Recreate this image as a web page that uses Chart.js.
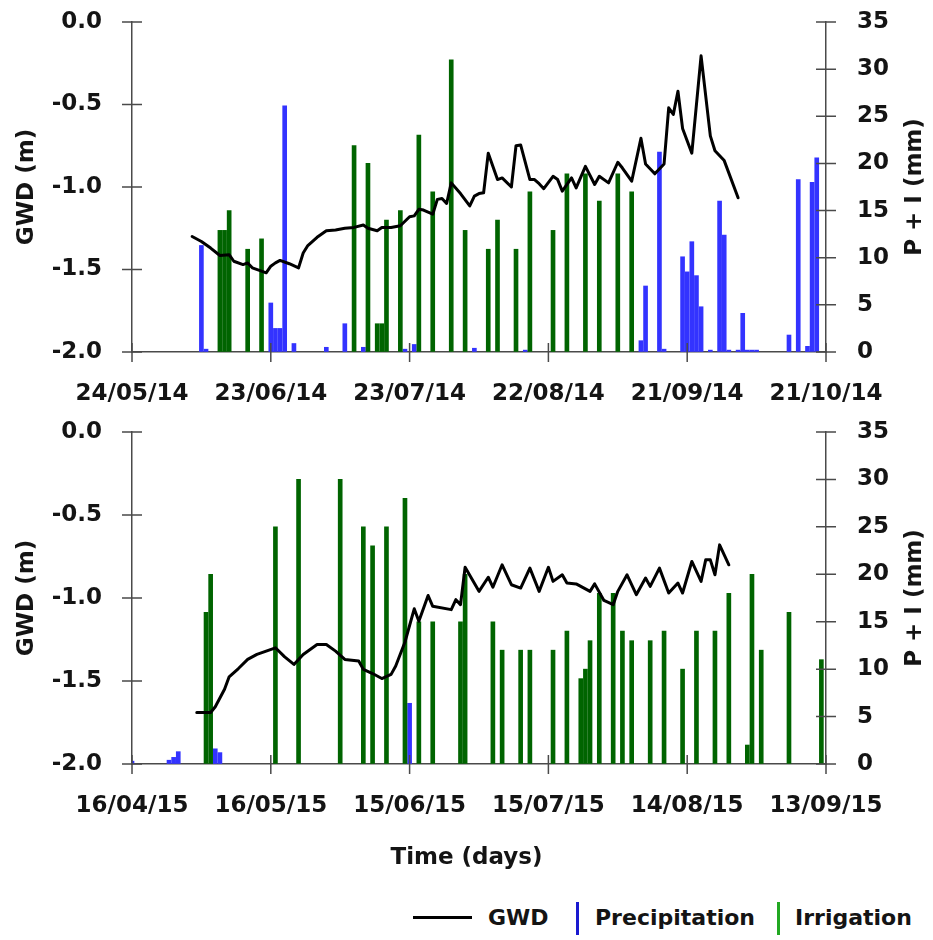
<!DOCTYPE html>
<html>
<head>
<meta charset="utf-8">
<script src="https://cdn.jsdelivr.net/npm/chart.js@4.4.1/dist/chart.umd.min.js"></script>
<style>
html,body{margin:0;padding:0;background:#fff;}
#wrap{position:relative;width:933px;height:940px;overflow:hidden;background:#fff;}
#c1{position:absolute;left:0;top:0;}
#c2{position:absolute;left:0;top:410px;}
.lgt{position:absolute;font-family:"DejaVu Sans",sans-serif;font-weight:bold;font-size:22px;line-height:22px;color:#141414;white-space:nowrap;}
.lgs{position:absolute;}
</style>
</head>
<body>
<div id="wrap">
  <canvas id="c1" width="933" height="410"></canvas>
  <canvas id="c2" width="933" height="480"></canvas>
  <div class="lgs" style="left:413px;top:916px;width:59px;height:3px;background:#000;"></div>
  <div class="lgt" style="left:488px;top:907px;">GWD</div>
  <div class="lgs" style="left:576px;top:902px;width:3px;height:33px;background:#1a1ad0;"></div>
  <div class="lgt" style="left:595px;top:907px;">Precipitation</div>
  <div class="lgs" style="left:777px;top:902px;width:3px;height:33px;background:#22a822;"></div>
  <div class="lgt" style="left:795px;top:907px;">Irrigation</div>
</div>
<script>
// ---------- data (day 0 = first tick date of each panel) ----------
const tickLabels2014 = ["24/05/14","23/06/14","23/07/14","22/08/14","21/09/14","21/10/14"];
const tickLabels2015 = ["16/04/15","16/05/15","15/06/15","15/07/15","14/08/15","13/09/15"];

const gwdDays2014 = [13,15,17,19,21,22,24,25,26,28,29,30,31,32,34,36,37,38,40,42,44,46,48,50,51,53,54,56,58,60,61,62,63,65,66,67,68,69,71,73,74,75,76,77,79,80,82,83,84,86,87,88,89,91,92,93,95,96,98,100,101,103,105,106,108,110,111,113,115,116,117,118,119,121,123,125,126,128,131];
const gwdValues2014 = [-1.30,-1.33,-1.37,-1.415,-1.41,-1.45,-1.47,-1.46,-1.49,-1.51,-1.52,-1.48,-1.46,-1.445,-1.465,-1.49,-1.40,-1.355,-1.305,-1.265,-1.26,-1.25,-1.245,-1.23,-1.25,-1.265,-1.245,-1.245,-1.235,-1.18,-1.175,-1.135,-1.14,-1.165,-1.075,-1.07,-1.10,-0.975,-1.04,-1.115,-1.055,-1.04,-1.035,-0.795,-0.955,-0.945,-1.00,-0.75,-0.745,-0.955,-0.955,-0.98,-1.01,-0.935,-0.955,-1.025,-0.945,-1.005,-0.875,-0.985,-0.935,-0.975,-0.85,-0.885,-0.965,-0.705,-0.86,-0.92,-0.86,-0.52,-0.56,-0.42,-0.645,-0.795,-0.205,-0.69,-0.78,-0.84,-1.065];

const precipDays2014 = [15,16,30,31,32,33,35,42,46,50,59,61,74,85,110,111,114,115,119,120,121,122,123,125,127,128,129,131,132,133,134,135,142,144,146,147,148];
const precipValues2014 = [11.3,0.3,5.2,2.5,2.5,26.1,0.9,0.5,3.0,0.5,0.3,0.8,0.4,0.2,1.2,7.0,21.2,0.3,10.1,8.5,11.7,8.1,4.8,0.2,16.0,12.4,0.2,0.2,4.1,0.2,0.2,0.2,1.8,18.3,0.6,18.0,20.6];

const irrigDays2014 = [19,20,21,25,28,48,51,53,54,55,58,62,65,69,72,77,79,83,86,91,94,98,101,105,108];
const irrigValues2014 = [12.9,12.9,15.0,10.9,12.0,21.9,20.0,3.0,3.0,14.0,15.0,23.0,17.0,31.0,12.9,10.9,14.0,10.9,17.0,12.9,18.9,18.9,16.0,18.9,17.0];

const gwdDays2015 = [14,17,18,20,21,23,25,27,29,31,33,35,37,40,42,44,46,49,50,52,54,56,57,59,61,62,64,65,69,70,71,72,75,77,78,80,82,84,86,88,90,91,93,94,96,99,100,102,104,105,107,109,111,112,114,116,118,119,121,123,124,125,126,127,129];
const gwdValues2015 = [-1.69,-1.69,-1.655,-1.55,-1.475,-1.425,-1.37,-1.34,-1.32,-1.30,-1.355,-1.40,-1.34,-1.28,-1.28,-1.32,-1.37,-1.38,-1.43,-1.455,-1.485,-1.46,-1.41,-1.265,-1.065,-1.14,-0.985,-1.05,-1.07,-1.01,-1.04,-0.815,-0.96,-0.875,-0.935,-0.80,-0.92,-0.94,-0.82,-0.96,-0.815,-0.90,-0.86,-0.91,-0.915,-0.96,-0.915,-1.015,-1.04,-0.96,-0.86,-0.98,-0.88,-0.93,-0.82,-0.97,-0.91,-0.97,-0.78,-0.90,-0.77,-0.77,-0.86,-0.68,-0.80];

const precipDays2015 = [0,8,9,10,18,19,60];
const precipValues2015 = [0.3,0.4,0.7,1.3,1.6,1.2,6.4];

const irrigDays2015 = [16,17,31,36,45,50,52,55,59,62,65,71,72,78,80,84,86,91,94,97,98,99,101,104,106,108,112,115,119,122,126,129,133,134,136,142,149];
const irrigValues2015 = [16,20,25,30,30,25,23,25,28,15,15,15,20,15,12,12,12,12,14,9,10,13,18,18,14,13,13,14,10,14,14,18,2,20,12,16,11];

const seriesNames = ["GWD","Precipitation","Irrigation"];
const leftTitle = "GWD (m)";
const rightTitle = "P + I (mm)";
const xTitle = "Time (days)";

// ---------- styling ----------
const AXIS = "#4a4a4a";
const TXT = "#141414";
const FONT = "'DejaVu Sans', sans-serif";
Chart.defaults.font.family = FONT;
Chart.defaults.font.weight = "bold";
Chart.defaults.color = TXT;

const pairs = (xs, ys) => xs.map((d, i) => ({x: d, y: ys[i]}));

// crossing tick marks on all three axes + right-hand title reading upward
const axisDecor = {
  id: "axisDecor",
  afterDraw(chart) {
    const ctx = chart.ctx;
    const {left, right, top, bottom} = chart.chartArea;
    const sx = chart.scales.x, sy = chart.scales.y, sy2 = chart.scales.y2;
    ctx.save();
    ctx.strokeStyle = AXIS;
    ctx.lineWidth = 1.5;
    ctx.beginPath();
    sy.ticks.forEach(t => { const p = sy.getPixelForValue(t.value); ctx.moveTo(left - 10, p); ctx.lineTo(left + 10, p); });
    sy2.ticks.forEach(t => { const p = sy2.getPixelForValue(t.value); ctx.moveTo(right - 10, p); ctx.lineTo(right + 10, p); });
    sx.ticks.forEach(t => { const p = sx.getPixelForValue(t.value); ctx.moveTo(p, bottom - 9); ctx.lineTo(p, bottom + 10); });
    ctx.stroke();
    const tt = chart.options.scales.y2.title;
    ctx.fillStyle = TXT;
    ctx.font = "bold 23px " + FONT;
    ctx.textAlign = "center";
    ctx.textBaseline = "middle";
    ctx.translate(915, (top + bottom) / 2);
    ctx.rotate(-Math.PI / 2);
    ctx.fillText(tt.text, 0, 0);
    ctx.restore();
  }
};

function makeChart(id, labels, gD, gV, pD, pV, iD, iV, isBottom) {
  const xAxisHeight = isBottom ? 80.4 : 58;
  const hiddenTicks = len => ({display: true, drawOnChartArea: false, drawTicks: true, tickLength: len,
                               color: "rgba(0,0,0,0)", tickColor: "rgba(0,0,0,0)", lineWidth: 1, tickWidth: 1});
  return new Chart(document.getElementById(id), {
    type: "line",
    data: {
      datasets: [
        {type: "line", label: seriesNames[0], data: pairs(gD, gV), yAxisID: "y", xAxisID: "x",
         borderColor: "#000", borderWidth: 3, pointRadius: 0, tension: 0, fill: false,
         borderJoinStyle: "round", borderCapStyle: "round", order: 0},
        {type: "bar", label: seriesNames[1], data: pairs(pD, pV), yAxisID: "y2", xAxisID: "x",
         backgroundColor: "#3333ff", borderWidth: 0, barThickness: 4, grouped: false, order: 2},
        {type: "bar", label: seriesNames[2], data: pairs(iD, iV), yAxisID: "y2", xAxisID: "x",
         backgroundColor: "#006400", borderWidth: 0, barThickness: 4, grouped: false, order: 1}
      ]
    },
    options: {
      responsive: false,
      animation: false,
      layout: {padding: {top: 22, left: 0, right: 0, bottom: 0}},
      plugins: {
        legend: {display: false},
        tooltip: {enabled: false},
        title: {display: isBottom, text: xTitle, position: "bottom",
                font: {size: 23, weight: "bold", family: FONT}, color: TXT,
                padding: {top: 0, bottom: 18}}
      },
      scales: {
        x: {
          type: "linear", position: "bottom", min: 0, max: 150, offset: false,
          grid: Object.assign(hiddenTicks(28), {offset: false}),
          border: {display: true, color: AXIS, width: 1.5},
          ticks: {stepSize: 30, autoSkip: false, maxRotation: 0, minRotation: 0, padding: 0,
                  font: {size: 23, weight: "bold"}, color: TXT,
                  callback: v => labels[Math.round(v / 30)]},
          afterFit: s => { s.height = xAxisHeight; }
        },
        y: {
          type: "linear", position: "left", min: -2, max: 0,
          grid: hiddenTicks(30),
          border: {display: true, color: AXIS, width: 1.5},
          ticks: {stepSize: 0.5, padding: 0, font: {size: 23, weight: "bold"}, color: TXT,
                  callback: v => Number(v).toFixed(1)},
          title: {display: true, text: leftTitle, font: {size: 23, weight: "bold"}, color: TXT,
                  padding: {top: 13, bottom: 0}},
          afterFit: s => { s.width = 132; }
        },
        y2: {
          type: "linear", position: "right", min: 0, max: 35,
          grid: hiddenTicks(31),
          border: {display: true, color: AXIS, width: 1.5},
          ticks: {stepSize: 5, padding: 0, font: {size: 23, weight: "bold"}, color: TXT},
          title: {display: false, text: rightTitle},
          afterFit: s => { s.width = 107; }
        }
      }
    },
    plugins: [axisDecor]
  });
}

makeChart("c1", tickLabels2014, gwdDays2014, gwdValues2014, precipDays2014, precipValues2014, irrigDays2014, irrigValues2014, false);
makeChart("c2", tickLabels2015, gwdDays2015, gwdValues2015, precipDays2015, precipValues2015, irrigDays2015, irrigValues2015, true);
</script>
</body>
</html>
